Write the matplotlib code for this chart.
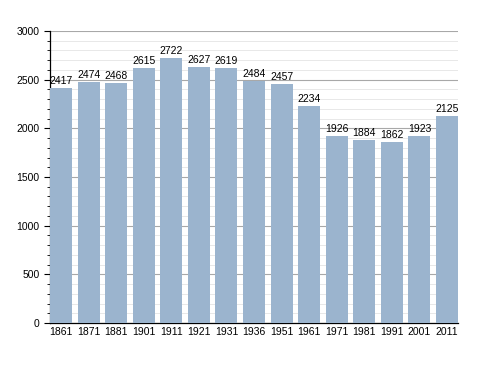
import matplotlib.pyplot as plt
from matplotlib.ticker import MultipleLocator

plt.rcParams['font.family'] = ['Liberation Sans', 'DejaVu Sans']

years = ['1861', '1871', '1881', '1901', '1911', '1921', '1931', '1936',
         '1951', '1961', '1971', '1981', '1991', '2001', '2011']
population = [2417, 2474, 2468, 2615, 2722, 2627, 2619, 2484,
              2457, 2234, 1926, 1884, 1862, 1923, 2125]

fig = plt.figure(figsize=(4.88, 3.73), dpi=100)
ax = fig.add_axes([0.1025, 0.134, 0.836, 0.783])

x = range(len(years))
bars = ax.bar(x, population, width=0.8, color='#9bb4ce', zorder=3)
for xi, v in zip(x, population):
    ax.text(xi, v + 20, str(v), ha='center', va='bottom', fontsize=7.5, zorder=4)

ax.set_xlim(-0.4, len(years) - 0.6)
ax.set_ylim(0, 3000)
ax.set_xticks(list(x))
ax.set_xticklabels(years, fontsize=7.5)
ax.yaxis.set_major_locator(MultipleLocator(500))
ax.yaxis.set_minor_locator(MultipleLocator(100))
ax.tick_params(axis='y', labelsize=7.5, length=4, width=0.8)
ax.tick_params(axis='y', which='minor', length=2, width=0.6)
ax.tick_params(axis='x', length=0, pad=3)

ax.grid(axis='y', which='major', color='#a8a8a8', linewidth=0.8, zorder=0)
ax.grid(axis='y', which='minor', color='#e4e4e4', linewidth=0.6, zorder=0)

for s in ['top', 'right']:
    ax.spines[s].set_visible(False)
ax.spines['left'].set_linewidth(0.9)
ax.spines['bottom'].set_linewidth(0.9)

fig.savefig('out.png', dpi=100)
